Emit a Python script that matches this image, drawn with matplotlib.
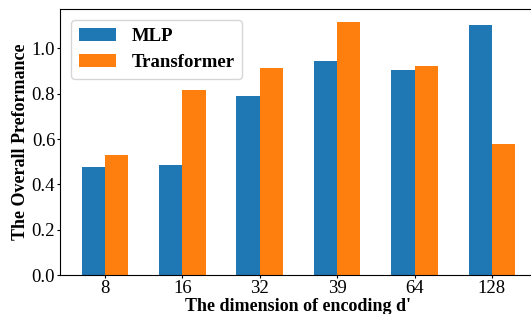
import numpy as np
import matplotlib
matplotlib.use("Agg")
import matplotlib.pyplot as plt

# ── Data ─────────────────────────────────────────────────────────────────────
dims = ["8", "16", "32", "39", "64", "128"]
mlp = [0.478, 0.485, 0.790, 0.944, 0.904, 1.103]
transformer = [0.529, 0.816, 0.913, 1.116, 0.922, 0.578]

plt.rcParams["font.family"] = ["Liberation Serif", "DejaVu Serif"]

fig = plt.figure(figsize=(5.31, 3.14), dpi=100)
ax = fig.add_axes([0.113, 0.124, 0.898, 0.847])

x = np.arange(len(dims))
w = 0.3
ax.bar(x - w / 2, mlp, w, color="tab:blue", label="MLP")
ax.bar(x + w / 2, transformer, w, color="tab:orange", label="Transformer")

ax.set_xlim(-0.58, len(dims) - 0.42)
ax.set_ylim(0, 1.173)
ax.set_xticks(x)
ax.set_xticklabels(dims)
ax.set_yticks([0.0, 0.2, 0.4, 0.6, 0.8, 1.0])
ax.tick_params(labelsize=13.5, length=2, pad=1.5)

ax.set_xlabel("The dimension of encoding d'", fontsize=13, fontweight="bold", labelpad=1)
ax.set_ylabel("The Overall Preformance", fontsize=13, fontweight="bold")
ax.yaxis.set_label_coords(-0.066, 0.5)

ax.legend(loc="upper left", prop={"size": 13.5, "weight": "bold"},
          borderaxespad=0.6, handlelength=2.0)

fig.savefig("out.png", dpi=100)
